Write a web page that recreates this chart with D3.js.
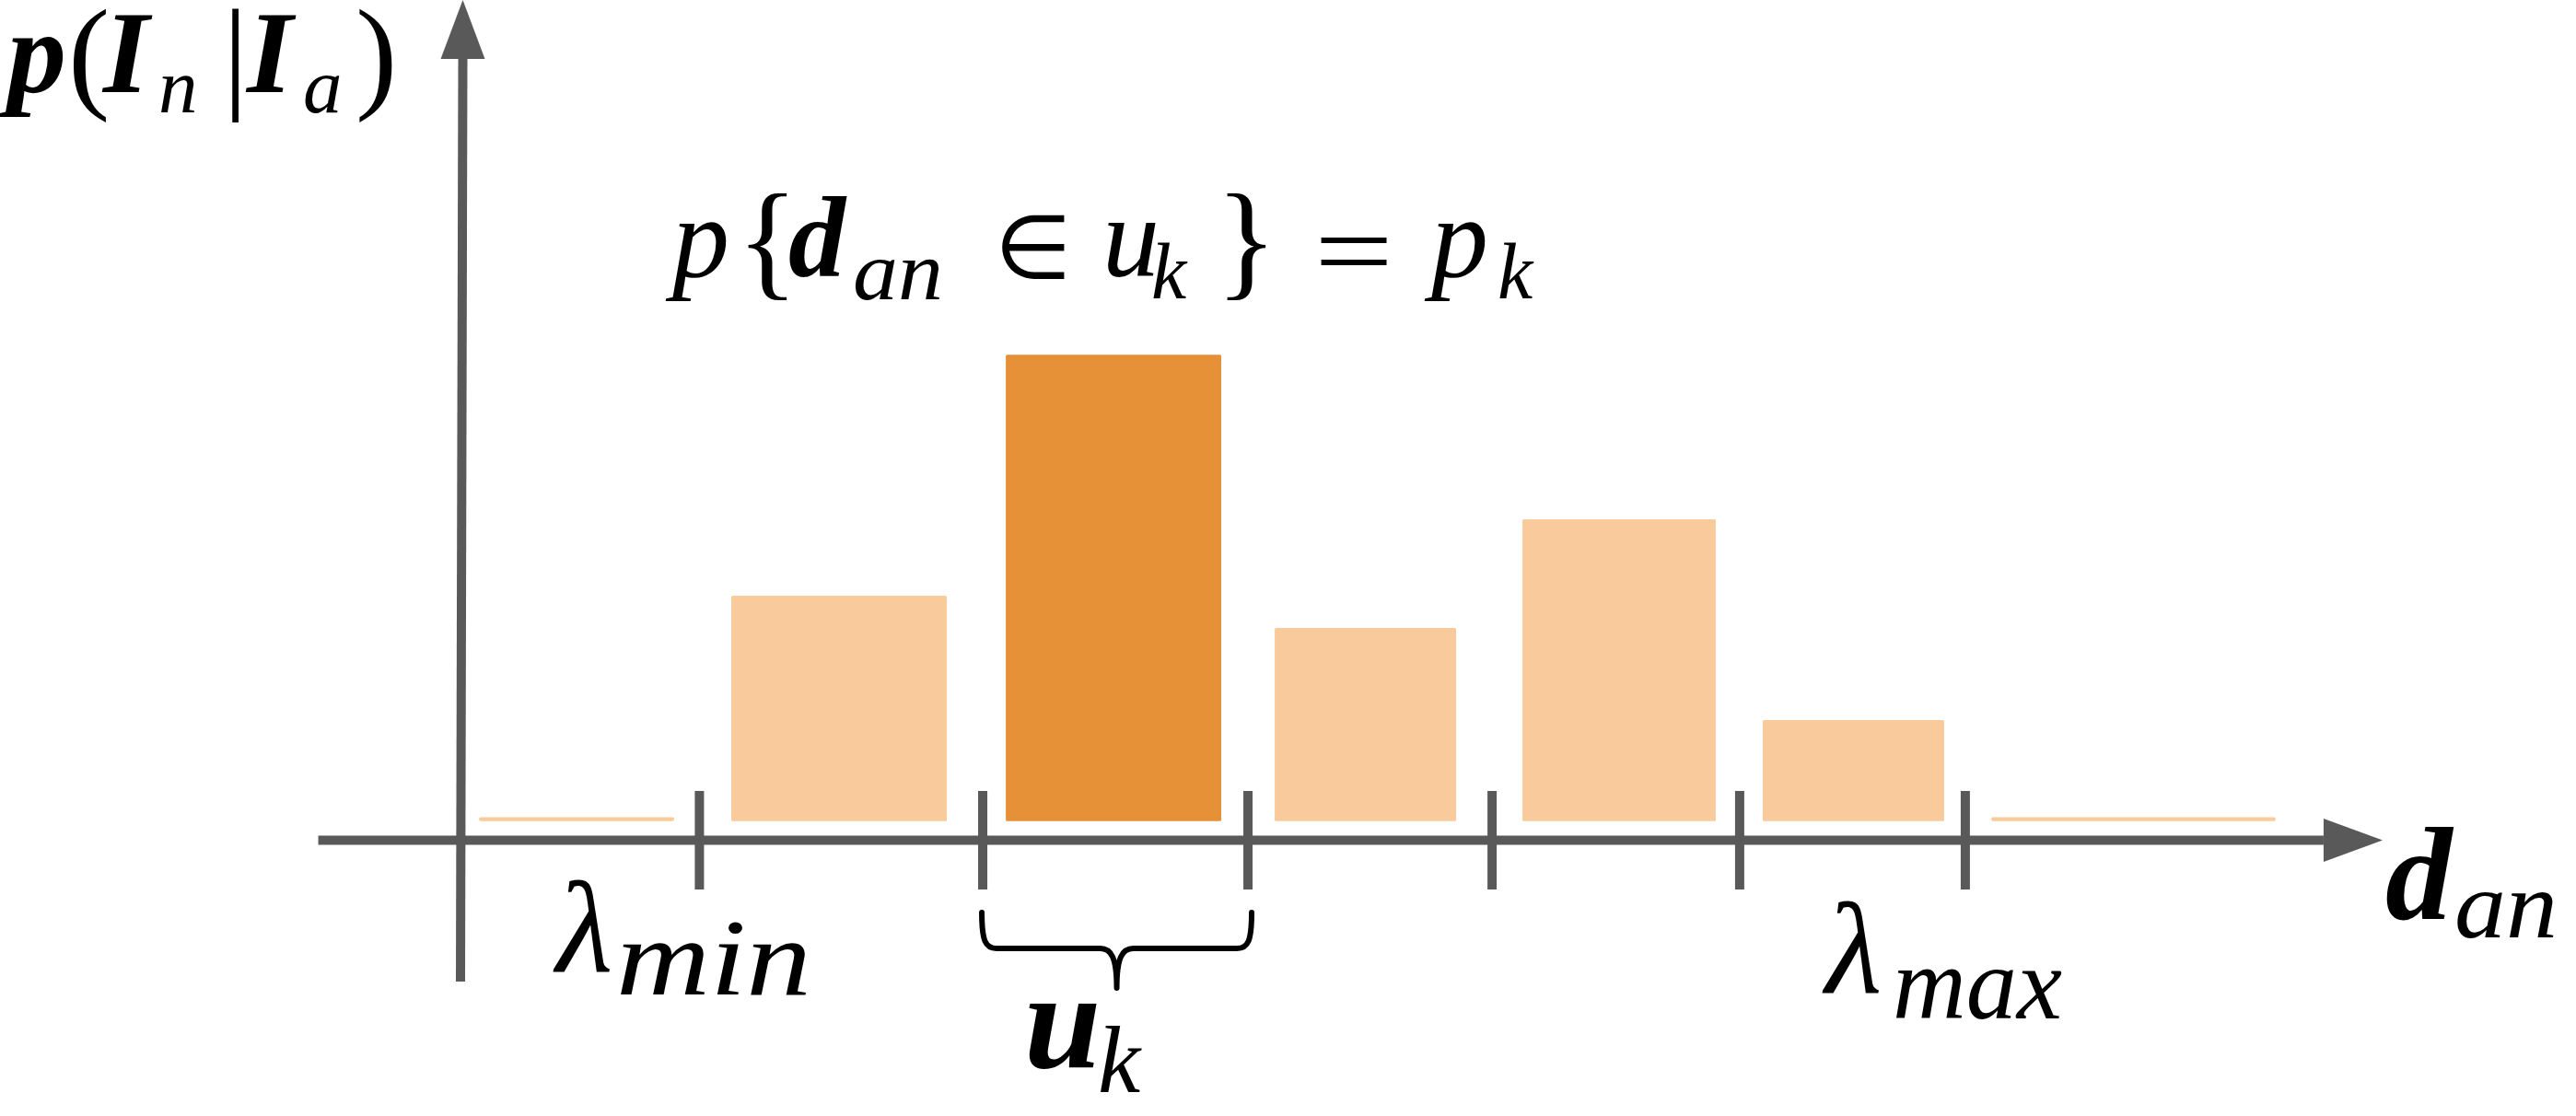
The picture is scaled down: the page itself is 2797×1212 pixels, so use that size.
<!DOCTYPE html>
<html>
<head>
<meta charset="utf-8">
<script src="https://cdn.jsdelivr.net/npm/d3@7"></script>
<style>
  html, body { margin: 0; padding: 0; background: #fff; }
  svg { display: block; }
  .math { font-family: "Liberation Serif", "DejaVu Serif", serif; fill: #000; }
</style>
</head>
<body>
<svg id="chart" width="2797" height="1212"></svg>
<script>
// bin edges on the d_an axis, from lambda_min to lambda_max
const binEdges = [12.43, 27.17, 40.97, 53.67, 66.55, 78.29];

// bars: start / end on the d_an axis and probability p_k
const barStart = [0.96, 14.09, 28.37, 42.36, 55.25, 67.75, 79.64];
const barEnd = [11.12, 25.30, 39.58, 51.80, 65.31, 77.19, 94.44];
const barProb = [0.003, 0.174, 0.360, 0.149, 0.233, 0.078, 0.003];
const highlightBar = 2; // the bin u_k

const axisColor = '#595959';
const lightColor = '#f9cb9c';
const darkColor = '#e69138';

const svg = d3.select('#chart');

// scales
const x = d3.scaleLinear().domain([0, 100]).range([500, 2587]);
const y = d3.scaleLinear().domain([0, 0.36]).range([891.7, 385.3]);

const axisY = 912.5;

// bars
const bars = barProb.map((p, i) => ({ x0: barStart[i], x1: barEnd[i], p, i }));

svg.append('g')
  .selectAll('rect')
  .data(bars)
  .enter()
  .append('rect')
  .attr('x', d => x(d.x0))
  .attr('y', d => y(d.p))
  .attr('width', d => x(d.x1) - x(d.x0))
  .attr('height', d => y(0) - y(d.p))
  .attr('rx', d => (d.p < 0.01 ? 2 : 1.5))
  .attr('fill', d => (d.i === highlightBar ? darkColor : lightColor));

// x axis with arrow
const axes = svg.append('g');
axes.append('line')
  .attr('x1', x(-7.4)).attr('x2', x(96.93))
  .attr('y1', axisY).attr('y2', axisY)
  .attr('stroke', axisColor).attr('stroke-width', 10);
axes.append('path')
  .attr('d', `M${x(96.93)},${axisY - 23.5}L${x(100)},${axisY}L${x(96.93)},${axisY + 23.5}Z`)
  .attr('fill', axisColor);

// y axis with arrow (slightly leaning, as drawn)
axes.append('line')
  .attr('x1', x(0) + 2.5).attr('y1', 60)
  .attr('x2', x(0)).attr('y2', 1066)
  .attr('stroke', axisColor).attr('stroke-width', 10);
axes.append('path')
  .attr('d', `M${x(0) - 21.5},64L${x(0) + 2.5},0L${x(0) + 26.5},64Z`)
  .attr('fill', axisColor);

// bin edge ticks
axes.selectAll('line.tick')
  .data(binEdges)
  .enter()
  .append('line')
  .attr('class', 'tick')
  .attr('x1', d => x(d)).attr('x2', d => x(d))
  .attr('y1', 859).attr('y2', 966)
  .attr('stroke', axisColor).attr('stroke-width', 10);

// brace under u_k
const bl = x(binEdges[1]) - 1, br = x(binEdges[2]) + 4, bm = (bl + br) / 2;
svg.append('path')
  .attr('d', `M${bl},991 C${bl},1022 ${bl + 4},1030 ${bl + 16},1030 L${bm - 18},1030 C${bm - 6},1030 ${bm},1040 ${bm},1073` +
    ` M${br},991 C${br},1022 ${br - 4},1030 ${br - 16},1030 L${bm + 18},1030 C${bm + 6},1030 ${bm},1040 ${bm},1073`)
  .attr('fill', 'none')
  .attr('stroke', '#000')
  .attr('stroke-width', 6)
  .attr('stroke-linecap', 'round');

// math expressions: one text element each, glyph groups as tspans
function math() {
  const t = svg.append('text').attr('class', 'math');
  const api = {
    put(txt, px, py, size, opts = {}) {
      const s = t.append('tspan')
        .attr('x', px).attr('y', py)
        .attr('font-size', size)
        .attr('font-style', opts.upright ? 'normal' : 'italic')
        .attr('font-weight', opts.bold ? 'bold' : (opts.weight || 'normal'))
        .text(txt);
      if (opts.family) s.attr('font-family', opts.family);
      if (opts.len) s.attr('textLength', opts.len).attr('lengthAdjust', 'spacingAndGlyphs');
      return api;
    }
  };
  return api;
}

// y axis label p(I_n | I_a)
math()
  .put('p', 8, 100, 128, { bold: true })
  .put('(', 74, 104, 136, { upright: true })
  .put('I', 112, 100, 128, { bold: true })
  .put('n', 172, 122, 85)
  .put('|', 242, 104, 136, { upright: true })
  .put('I', 268, 100, 128, { bold: true })
  .put('a', 329, 122, 85)
  .put(')', 386, 104, 136, { upright: true });

// formula p{d_an ∈ u_k} = p_k
math()
  .put('p', 730, 300, 124)
  .put('{', 800, 307, 139, { upright: true })
  .put('d', 856, 300, 124, { bold: true })
  .put('an', 926, 325, 90, { len: 98 })
  .put('\u2208', 1080, 302, 96, { upright: true, family: '"DejaVu Sans", sans-serif', weight: 200 })
  .put('u', 1197, 300, 124)
  .put('k', 1250, 324, 86)
  .put('}', 1320, 307, 139, { upright: true })
  .put('=', 1427, 313, 118, { upright: true, len: 86 })
  .put('p', 1554, 300, 124)
  .put('k', 1626, 324, 86);

// axis labels
math()
  .put('\u03bb', 604, 1056, 142)
  .put('min', 669, 1080, 118, { len: 212 });
math()
  .put('\u03bb', 1982, 1079, 142)
  .put('max', 2055, 1106, 112, { len: 184 });
math()
  .put('u', 1112, 1159, 150, { bold: true })
  .put('k', 1192, 1186, 104);
math()
  .put('d', 2590, 998, 145, { bold: true })
  .put('an', 2665, 1018, 104, { len: 112 });
</script>
</body>
</html>
